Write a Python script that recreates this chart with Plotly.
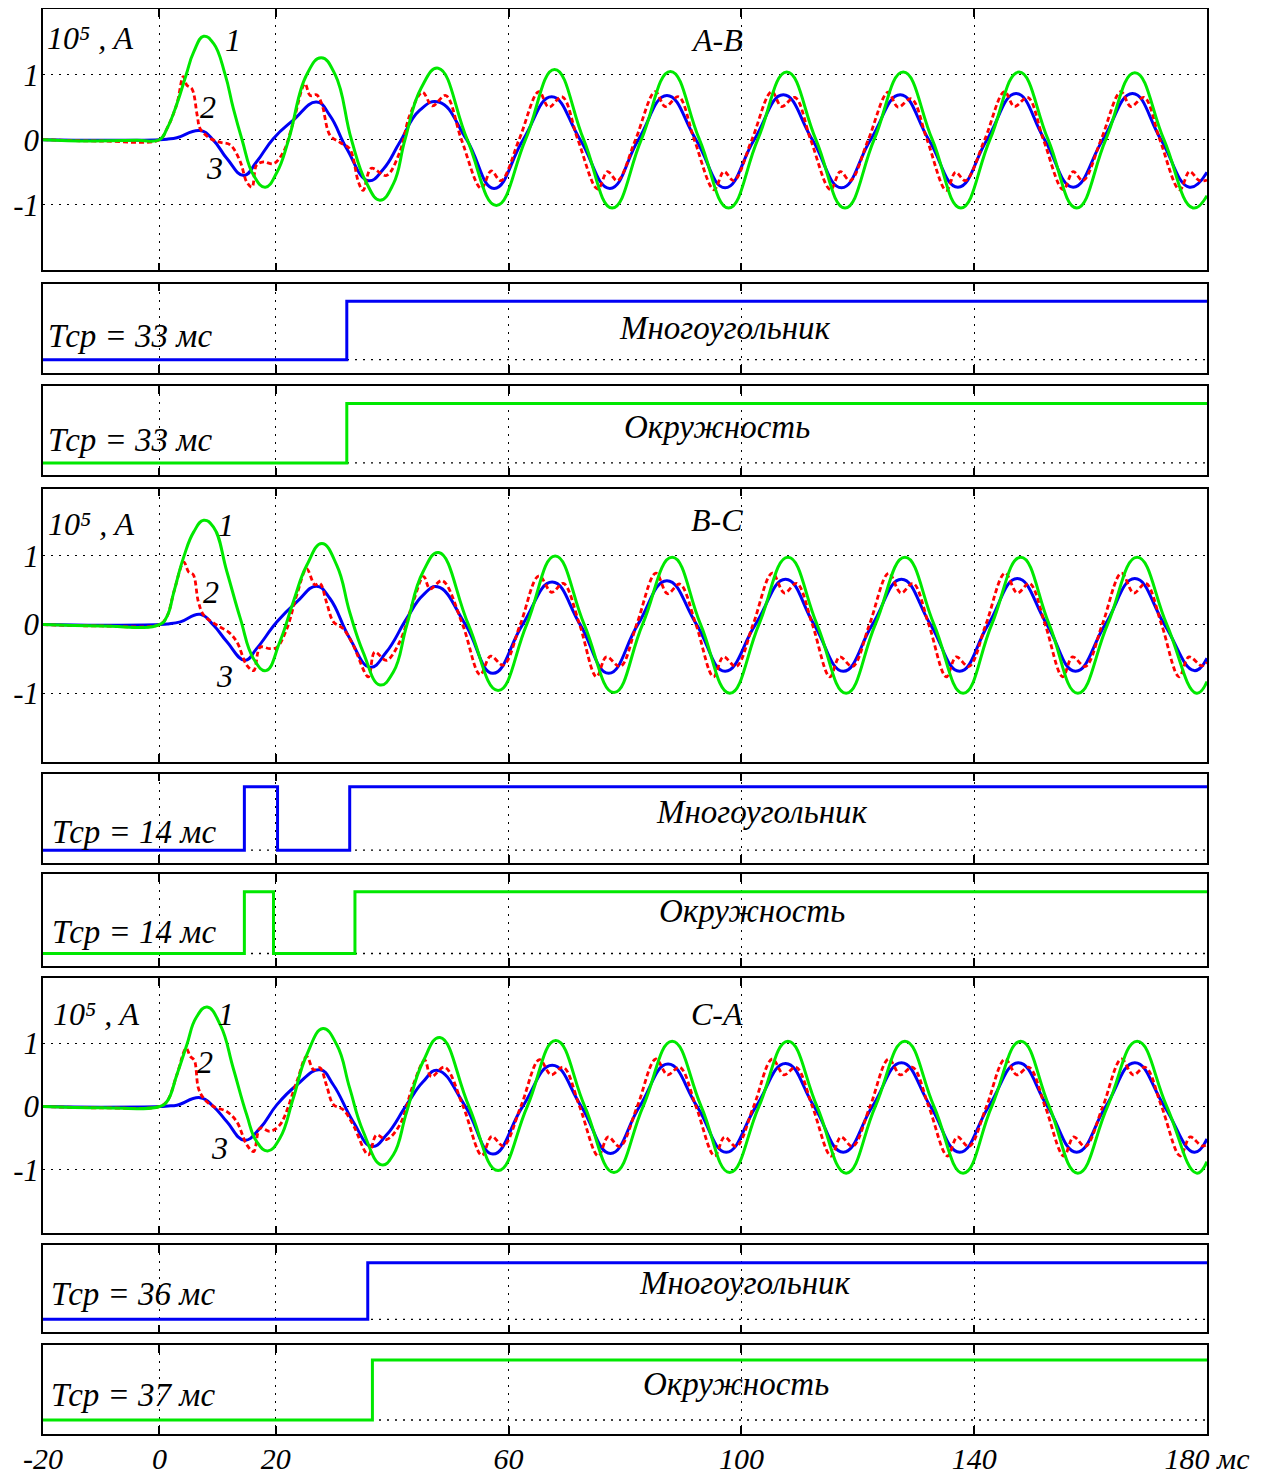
import plotly.graph_objects as go

# ---------------- data ----------------
# time axis, ms
x_tickvals = [-20, 0, 20, 60, 100, 140, 180]
x_ticktext = ["-20", "0", "20", "60", "100", "140", "180 мс"]
y_tickvals = [-1, 0, 1]
y_ticktext = ["-1", "0", "1"]

phase_names = ["A-B", "B-C", "C-A"]
char_names = ["Многоугольник", "Окружность"]
trip_labels = ["Тср = 33 мс", "Тср = 33 мс", "Тср = 14 мс", "Тср = 14 мс", "Тср = 36 мс", "Тср = 37 мс"]
curve_numbers = ["1", "2", "3"]
unit_label = "10⁵ , A"

# ---- A-B ----
ab_green_t = [-20, -12, -4, 0, 1.3, 3.0, 4.6, 5.9, 7.6, 9.3, 11.3, 12.7, 14.2, 16.2, 18.2, 20.2, 22.2, 25.3, 27.8, 30.2,
              33.0, 35.5, 37.9, 40.2, 42.2, 45.0, 47.9, 52.9, 57.9, 62.9, 67.9, 72.9, 77.8, 82.8, 87.8, 92.8, 97.8, 102.8,
              107.8, 112.8, 117.8, 122.8, 127.8, 132.8, 137.7, 142.7, 147.7, 152.7, 157.6, 162.6, 167.6, 172.6, 177.6, 180]
ab_green_v = [0, -0.02, -0.01, 0, 0.17, 0.55, 1.0, 1.35, 1.59, 1.48, 1.0, 0.48, 0, -0.55, -0.73, -0.50, 0, 1.0, 1.26, 1.0,
              0, -0.65, -0.93, -0.68, 0, 0.80, 1.10, 0, -1.01, 0, 1.08, 0, -1.05, 0, 1.05, 0, -1.05, 0,
              1.04, 0, -1.05, 0, 1.04, 0, -1.05, 0, 1.04, 0, -1.05, 0, 1.03, 0, -1.05, -0.86]
ab_blue_t = [-20, -10, 0, 1.5, 3.0, 7.0, 9.3, 11.6, 14.5, 16.7, 19.6, 23.0, 27.0, 29.3, 32.2, 35.9, 38.5, 41.3, 44.7, 48.0,
             52.8, 57.5, 62.5, 67.4, 72.3, 77.4, 82.3, 87.2, 92.2, 97.2, 102.2, 107.2, 112.2, 117.2, 122.2, 127.3, 132.2,
             137.2, 142.2, 147.2, 152.1, 157.0, 162.1, 167.2, 172.1, 177.0, 180]
ab_blue_v = [0, -0.01, 0, 0.01, 0.03, 0.14, -0.01, -0.29, -0.55, -0.34, 0.02, 0.30, 0.58, 0.37, -0.14, -0.63, -0.45, -0.04, 0.45, 0.58,
             0, -0.75, 0, 0.66, 0, -0.75, 0, 0.68, 0, -0.74, 0, 0.69, 0, -0.74, 0, 0.69, 0,
             -0.73, 0, 0.71, 0, -0.73, 0, 0.71, 0, -0.73, -0.50]
ab_red_t = [-20, -10, 0, 1.3, 3.0, 4.1, 4.7, 5.6, 6.5, 7.0, 8.7, 10.5, 12.2, 13.9, 15.0, 15.9, 16.7, 17.9, 19.6, 21.3,
            23.0, 25.0, 25.9, 27.0, 27.9, 29.3, 31.0, 32.7, 34.2, 35.0, 36.4, 39.0, 41.3, 43.0,
            45.2, 46.9, 49.2, 51.9, 55.3, 57.0, 58.7, 61.8,
            65.2, 66.9, 69.2, 71.9, 75.3, 77.0, 78.7, 81.8,
            85.2, 86.9, 89.2, 91.9, 95.3, 97.0, 98.7, 101.8,
            105.2, 106.9, 109.2, 111.9, 115.3, 117.0, 118.7, 121.8,
            125.2, 126.9, 129.2, 131.9, 135.2, 136.8, 138.5, 141.8,
            145.2, 146.9, 149.2, 151.9, 155.3, 157.0, 158.7, 161.8,
            165.2, 166.9, 169.2, 171.9, 175.3, 177.0, 178.7, 180]
ab_red_v = [0, -0.02, 0, 0.17, 0.55, 0.97, 0.84, 0.78, 0.37, 0.17, 0.02, -0.04, -0.08, -0.34, -0.65, -0.73, -0.39, -0.34, -0.37, -0.19,
            0.27, 0.86, 0.68, 0.69, 0.55, 0.07, -0.04, -0.14, -0.65, -0.78, -0.44, -0.55, -0.19, 0.37,
            0.73, 0.52, 0.68, 0, -0.75, -0.48, -0.63, 0,
            0.74, 0.50, 0.66, 0, -0.76, -0.49, -0.63, 0,
            0.74, 0.51, 0.66, 0, -0.77, -0.49, -0.63, 0,
            0.74, 0.51, 0.65, 0, -0.77, -0.49, -0.63, 0,
            0.73, 0.50, 0.63, 0, -0.78, -0.50, -0.63, 0,
            0.74, 0.51, 0.65, 0, -0.77, -0.49, -0.63, 0,
            0.74, 0.51, 0.65, 0, -0.77, -0.49, -0.63, -0.62]

# ---- B-C ----
bc_green_t = [-20, -10, 0, 1.3, 2.5, 4.2, 5.9, 7.6, 9.3, 11.6, 13.9, 16.2, 18.3, 20.7, 23.0, 25.3, 27.9, 30.5, 32.7, 35.0,
              37.9, 40.2, 42.5, 45.3, 48.0, 53.1, 58.2, 63.1, 68.0, 73.0, 78.1, 83.0, 88.1, 93.0, 98.0, 103.0, 108.0, 113.0,
              118.0, 123.0, 128.1, 133.1, 138.1, 143.0, 148.0, 152.9, 157.8, 162.9, 168.0, 173.1, 178.2, 180]
bc_green_v = [0, -0.02, 0, 0.12, 0.48, 0.99, 1.35, 1.52, 1.42, 0.77, 0.09, -0.50, -0.67, -0.25, 0.33, 0.86, 1.18, 0.86, 0.18, -0.40,
              -0.88, -0.69, -0.01, 0.77, 1.05, 0, -0.96, 0, 1.00, 0, -0.99, 0, 0.98, 0, -1.0, 0, 0.98, 0,
              -1.0, 0, 0.98, 0, -1.0, 0, 0.98, 0, -1.0, 0, 0.98, 0, -1.0, -0.83]
bc_blue_t = [-20, -10, 0, 1.5, 3.6, 7.0, 9.3, 11.6, 14.7, 16.7, 20.2, 23.6, 27.0, 29.3, 32.7, 36.2, 39.0, 42.5, 45.3, 47.8,
             52.6, 57.3, 62.4, 67.5, 72.3, 77.2, 82.2, 87.2, 92.3, 97.2, 102.4, 107.6, 112.5, 117.5, 122.5, 127.5, 132.5,
             137.5, 142.4, 147.4, 152.5, 157.4, 162.5, 167.6, 172.7, 177.8, 180]
bc_blue_v = [0, -0.01, 0, 0.01, 0.04, 0.15, -0.01, -0.25, -0.52, -0.35, 0.04, 0.33, 0.56, 0.38, -0.20, -0.62, -0.40, 0.09, 0.43, 0.55,
             0, -0.71, 0, 0.62, 0, -0.71, 0, 0.64, 0, -0.68, 0, 0.66, 0, -0.68, 0, 0.66, 0,
             -0.68, 0, 0.67, 0, -0.68, 0, 0.67, 0, -0.67, -0.49]
bc_red_t = [-20, -10, 0, 1.3, 2.5, 4.2, 5.0, 5.8, 6.7, 7.6, 9.9, 11.9, 13.3, 15.0, 16.2, 17.3, 19.0, 20.2, 21.9, 23.6,
            25.3, 26.7, 27.6, 28.7, 29.9, 31.6, 33.3, 35.9, 37.0, 39.0, 41.3, 43.6, 45.4, 46.5, 48.6, 52.1, 55.1, 56.9, 59.1, 62.0,
            65.2, 67.4, 69.4, 72.2, 75.1, 76.8, 79.2, 82.0,
            85.3, 87.3, 89.4, 92.2, 95.2, 96.9, 99.1, 102.0,
            105.3, 107.4, 109.5, 112.2, 115.2, 116.9, 119.1, 122.0,
            125.3, 127.4, 129.5, 132.2, 135.2, 136.9, 139.1, 142.0,
            145.3, 147.4, 149.5, 152.2, 155.2, 156.9, 159.1, 162.0,
            165.3, 167.4, 169.5, 172.2, 175.2, 176.9, 179.1, 180]
bc_red_v = [0, -0.02, 0, 0.12, 0.48, 0.91, 0.77, 0.73, 0.33, 0.14, -0.01, -0.11, -0.25, -0.59, -0.67, -0.33, -0.35, -0.33, -0.06, 0.43,
            0.81, 0.58, 0.60, 0.33, 0.04, -0.06, -0.30, -0.76, -0.40, -0.52, -0.25, 0.33, 0.70, 0.52, 0.64, 0, -0.73, -0.46, -0.59, 0,
            0.71, 0.47, 0.60, 0, -0.76, -0.47, -0.61, 0,
            0.75, 0.45, 0.59, 0, -0.76, -0.47, -0.61, 0,
            0.75, 0.46, 0.60, 0, -0.76, -0.47, -0.61, 0,
            0.75, 0.46, 0.60, 0, -0.76, -0.47, -0.61, 0,
            0.75, 0.46, 0.60, 0, -0.76, -0.47, -0.61, 0,
            0.75, 0.46, 0.60, 0, -0.76, -0.47, -0.60, -0.55]

# ---- C-A ----
ca_green_t = [-20, -10, 0, 1.3, 3.0, 4.7, 6.3, 8.2, 10.5, 12.7, 15.0, 16.7, 18.6, 20.7, 23.0, 25.3, 28.1, 30.5, 32.7, 35.0,
              38.2, 40.2, 42.5, 45.3, 48.2, 53.2, 58.2, 63.2, 68.1, 73.1, 78.1, 83.1, 88.1, 93.1, 98.0, 103.0, 108.0, 113.0,
              118.0, 123.0, 128.1, 133.1, 138.1, 143.0, 148.0, 152.9, 157.8, 162.9, 168.0, 173.1, 178.2, 180]
ca_green_v = [0, -0.02, 0, 0.08, 0.50, 0.97, 1.40, 1.57, 1.28, 0.60, -0.13, -0.55, -0.70, -0.50, 0.13, 0.81, 1.23, 0.97, 0.29, -0.39,
              -0.92, -0.76, -0.08, 0.71, 1.09, 0, -1.01, 0, 1.04, 0, -1.04, 0, 1.03, 0, -1.04, 0, 1.03, 0,
              -1.05, 0, 1.03, 0, -1.05, 0, 1.03, 0, -1.05, 0, 1.03, 0, -1.05, -0.87]
ca_blue_t = [-20, -10, 0, 1.5, 3.0, 7.0, 9.3, 11.6, 14.6, 17.3, 20.2, 23.6, 27.6, 29.9, 33.3, 36.5, 39.0, 42.5, 45.3, 47.8,
             52.6, 57.3, 62.4, 67.5, 72.5, 77.5, 82.5, 87.4, 92.4, 97.4, 102.5, 107.6, 112.5, 117.5, 122.5, 127.5, 132.5,
             137.5, 142.5, 147.6, 152.6, 157.6, 162.6, 167.6, 172.7, 177.8, 180]
ca_blue_v = [0, -0.01, 0, 0.01, 0.02, 0.14, 0.0, -0.24, -0.53, -0.34, 0.03, 0.34, 0.58, 0.34, -0.24, -0.63, -0.45, 0.03, 0.39, 0.57,
             0, -0.75, 0, 0.65, 0, -0.74, 0, 0.67, 0, -0.72, 0, 0.68, 0, -0.72, 0, 0.69, 0,
             -0.72, 0, 0.69, 0, -0.72, 0, 0.69, 0, -0.72, -0.51]
ca_red_t = [-20, -10, 0, 1.3, 3.0, 4.6, 5.3, 6.0, 6.7, 7.6, 9.3, 11.6, 13.3, 15.0, 16.2, 17.3, 19.0, 20.7, 23.6, 25.3,
            26.5, 27.6, 28.7, 29.9, 31.6, 33.3, 35.9, 37.3, 39.0, 41.3, 43.6, 45.6, 46.7, 49.0, 52.2, 55.4, 57.1, 59.1, 62.1,
            65.3, 67.3, 69.4, 72.2, 75.4, 77.1, 79.1, 82.1,
            85.3, 87.3, 89.4, 92.2, 95.4, 97.1, 99.1, 102.1,
            105.3, 107.3, 109.4, 112.2, 115.4, 117.1, 119.1, 122.1,
            125.3, 127.3, 129.4, 132.2, 135.4, 137.1, 139.1, 142.1,
            145.3, 147.3, 149.4, 152.2, 155.4, 157.1, 159.1, 162.1,
            165.3, 167.3, 169.4, 172.2, 175.4, 177.1, 179.1, 180]
ca_red_v = [0, -0.02, 0, 0.08, 0.50, 0.92, 0.79, 0.73, 0.29, 0.13, 0.0, -0.08, -0.24, -0.60, -0.71, -0.34, -0.39, -0.29, 0.39, 0.79,
            0.58, 0.61, 0.34, 0.03, -0.05, -0.29, -0.76, -0.45, -0.52, -0.29, 0.34, 0.73, 0.47, 0.62, 0, -0.77, -0.47, -0.62, 0,
            0.74, 0.50, 0.62, 0, -0.78, -0.48, -0.63, 0,
            0.75, 0.50, 0.62, 0, -0.78, -0.48, -0.63, 0,
            0.75, 0.50, 0.62, 0, -0.78, -0.48, -0.63, 0,
            0.75, 0.50, 0.62, 0, -0.78, -0.48, -0.63, 0,
            0.75, 0.50, 0.62, 0, -0.78, -0.48, -0.63, 0,
            0.75, 0.50, 0.62, 0, -0.78, -0.48, -0.62, -0.60]

# ---- trip logic signals (0 = no trip, 1 = trip) ----
ab_poly_t, ab_poly_s = [-20, 32.2, 180], [0, 1, 1]
ab_circ_t, ab_circ_s = [-20, 32.2, 180], [0, 1, 1]
bc_poly_t, bc_poly_s = [-20, 14.6, 20.3, 32.7, 180], [0, 1, 0, 1, 1]
bc_circ_t, bc_circ_s = [-20, 14.6, 19.6, 33.6, 180], [0, 1, 0, 1, 1]
ca_poly_t, ca_poly_s = [-20, 35.8, 180], [0, 1, 1]
ca_circ_t, ca_circ_s = [-20, 36.6, 180], [0, 1, 1]

# ---------------- styling / layout ----------------
GREEN = "#00E800"
BLUE = "#0000F5"
RED = "#FF0000"
FONT = "Liberation Serif"
DOTS = "2px,6px"
PAGE_OFF = 8               # default body margin of the written page
W, H = 1262 - PAGE_OFF, 1478 - PAGE_OFF
ML, MR, MT, MB = 43 - PAGE_OFF, 55, 0.5, 44
PH = H - MT - MB


def dom(top, bot):
    # top / bot are page pixel rows of the panel frame
    return [(H - MB - (bot - PAGE_OFF)) / PH, (H - MB - (top - PAGE_OFF)) / PH]


# (top px, bottom px, y-range)
geom = [
    (8.5, 270, [-2.01, 2.01]),
    (283.3, 372.3, [-0.223, 1.30]),
    (386, 475, [-0.21, 1.29]),
    (488.3, 761.7, [-2.0, 1.98]),
    (773.3, 862.7, [-0.20, 1.21]),
    (874.3, 965.7, [-0.20, 1.28]),
    (978.3, 1233.3, [-2.0, 2.02]),
    (1244.7, 1332.3, [-0.23, 1.32]),
    (1345.3, 1434, [-0.233, 1.245]),
]

fig = go.Figure()

analog = [
    (1, ab_green_t, ab_green_v, ab_blue_t, ab_blue_v, ab_red_t, ab_red_v),
    (4, bc_green_t, bc_green_v, bc_blue_t, bc_blue_v, bc_red_t, bc_red_v),
    (7, ca_green_t, ca_green_v, ca_blue_t, ca_blue_v, ca_red_t, ca_red_v),
]


def ax(i):
    return ("x" if i == 1 else f"x{i}", "y" if i == 1 else f"y{i}")


for i, gt, gv, bt, bv, rt, rv in analog:
    xa, ya = ax(i)
    fig.add_trace(go.Scatter(x=bt, y=bv, mode="lines", xaxis=xa, yaxis=ya,
                             line=dict(color=BLUE, width=3, shape="spline", smoothing=1.3), showlegend=False))
    fig.add_trace(go.Scatter(x=rt, y=rv, mode="lines", xaxis=xa, yaxis=ya,
                             line=dict(color=RED, width=2.8, dash="5px,3px", shape="spline", smoothing=1.0), showlegend=False))
    fig.add_trace(go.Scatter(x=gt, y=gv, mode="lines", xaxis=xa, yaxis=ya,
                             line=dict(color=GREEN, width=3, shape="spline", smoothing=1.3), showlegend=False))

logic = [
    (2, ab_poly_t, ab_poly_s, BLUE), (3, ab_circ_t, ab_circ_s, GREEN),
    (5, bc_poly_t, bc_poly_s, BLUE), (6, bc_circ_t, bc_circ_s, GREEN),
    (8, ca_poly_t, ca_poly_s, BLUE), (9, ca_circ_t, ca_circ_s, GREEN),
]
shapes = []
for i, t, s, col in logic:
    xa, ya = ax(i)
    # dotted "0" level line of the logic panel
    shapes.append(dict(type="line", xref=xa, yref=ya, x0=-20, x1=180, y0=0, y1=0, layer="below",
                       line=dict(color="black", width=1.3, dash=DOTS)))
    fig.add_trace(go.Scatter(x=t, y=s, mode="lines", xaxis=xa, yaxis=ya,
                             line=dict(color=col, width=3, shape="hv"), showlegend=False))

grid = dict(gridcolor="black", gridwidth=1.3, griddash=DOTS, zeroline=False, automargin=False)
layout = {}
for k, (top, bot, yr) in enumerate(geom, start=1):
    sfx = "" if k == 1 else str(k)
    big = k in (1, 4, 7)
    bottom = k == 9
    xa_d = dict(
        domain=[0, 1], range=[-20, 180], anchor="y" + sfx,
        tickmode="array",
        tickvals=x_tickvals if bottom else x_tickvals[1:-1],
        ticks="inside", ticklen=8, tickwidth=1.5, tickcolor="black",
        showline=True, linecolor="black", linewidth=1.5, mirror="ticks",
        showticklabels=bottom, showgrid=True,
        **grid,
    )
    if bottom:
        xa_d.update(ticktext=x_ticktext, ticklabelstandoff=-3,
                    tickfont=dict(family=FONT, size=30, color="black", style="italic"))
    if k != 1:
        xa_d["matches"] = "x"
    layout["xaxis" + sfx] = xa_d
    ya_d = dict(
        domain=dom(top, bot), range=yr, anchor="x" + sfx,
        ticks="", showline=True, linecolor="black", linewidth=1.5, mirror=True,
        showticklabels=big, showgrid=big,
        **grid,
    )
    if big:
        ya_d.update(tickmode="array", tickvals=y_tickvals, ticktext=y_ticktext, ticklabelstandoff=-4,
                    tickfont=dict(family=FONT, size=31, color="black", style="italic"))
    layout["yaxis" + sfx] = ya_d

annotations = []


def txt(i, x, y, text, xanchor="center", size=33):
    xa, ya = ax(i)
    annotations.append(dict(x=x, y=y, xref=xa, yref=ya, text=text, showarrow=False,
                            xanchor=xanchor, yanchor="middle",
                            font=dict(family=FONT, size=size, color="black", style="italic")))


# (panel, unit-label y, "1" pos, "2" pos, "3" pos, phase y, unit-label x)
analog_text = [
    (1, 1.56, (12.7, 1.54), (8.4, 0.51), (9.4, -0.44), 1.53, -19.6),
    (4, 1.47, (11.5, 1.45), (8.9, 0.48), (11.1, -0.75), 1.52, -19.4),
    (7, 1.46, (11.5, 1.46), (7.9, 0.70), (10.3, -0.65), 1.46, -18.7),
]
for n, (i, uy, p1, p2, p3, py, ux) in enumerate(analog_text):
    txt(i, ux, uy, unit_label, xanchor="left", size=32)
    txt(i, p1[0], p1[1], curve_numbers[0], size=32)
    txt(i, p2[0], p2[1], curve_numbers[1], size=32)
    txt(i, p3[0], p3[1], curve_numbers[2], size=32)
    txt(i, 95.8, py, phase_names[n], size=32)

# logic panel labels: (panel, trip label x, trip label y, char label x, char label y)
logic_text = [
    (2, -19.5, 0.40, 97.2, 0.55),
    (3, -19.5, 0.38, 95.8, 0.60),
    (5, -18.8, 0.28, 103.5, 0.60),
    (6, -18.8, 0.35, 101.9, 0.69),
    (8, -19.0, 0.45, 100.6, 0.64),
    (9, -19.0, 0.42, 99.1, 0.60),
]
for n, (i, tx, ty, cx, cy) in enumerate(logic_text):
    txt(i, tx, ty, trip_labels[n], xanchor="left")
    txt(i, cx, cy, char_names[n % 2])

fig.update_layout(
    width=W, height=H,
    margin=dict(l=ML, r=MR, t=MT, b=MB, autoexpand=False),
    paper_bgcolor="white", plot_bgcolor="white",
    showlegend=False,
    annotations=annotations,
    shapes=shapes,
    **layout,
)

fig.write_html("out.html")
